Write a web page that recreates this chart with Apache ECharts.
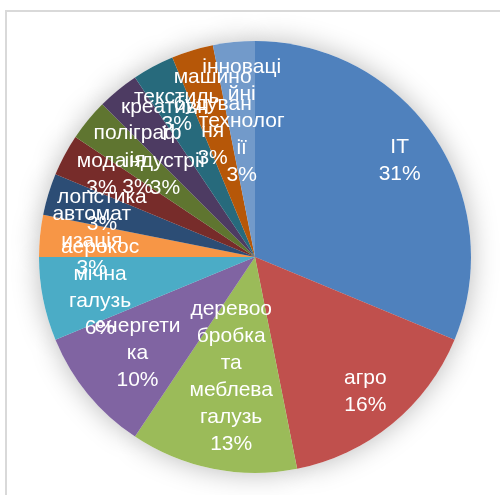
<!DOCTYPE html>
<html>
<head>
<meta charset="utf-8">
<script src="https://cdn.jsdelivr.net/npm/echarts@6/dist/echarts.min.js"></script>
<style>
  html, body { margin: 0; padding: 0; background: #fff; }
  .frame {
    position: absolute;
    left: 5px;
    top: 10px;
    width: 520px;
    height: 520px;
    border: 2px solid #d9d9d9;
  }
  #chart {
    position: absolute;
    left: 0;
    top: 0;
    width: 500px;
    height: 495px;
  }
</style>
</head>
<body>
<div class="frame"></div>
<div id="chart"></div>
<script>
// дані (кількість, відсотки рахує сама ECharts)
const categories = [
  'IT', 'агро', 'деревообробка та меблева галузь', 'енергетика',
  'аерокосмічна галузь', 'автоматизація', 'логістика', 'мода',
  'поліграфія', 'креативні індустрії', 'текстиль', 'машинобудування',
  'інноваційні технології'
];
const values = [10, 5, 4, 3, 2, 1, 1, 1, 1, 1, 1, 1, 1];
const colors = [
  '#4f81bd', '#c0504d', '#9bbb59', '#8064a2', '#4bacc6', '#f79646',
  '#2c4d75', '#772c2a', '#5f7530', '#4d3b62', '#276a7c', '#b65708',
  '#729aca'
];

const CENTER = [255, 257];
const RADIUS = 216;
const FONT_FAMILY = '"Liberation Sans", Arial, sans-serif';
const FONT_SIZE = 21;
const WRAP_WIDTH = 89.8;

// перенос як в Excel: по словах, довге слово ріжемо по літерах
const ctx = document.createElement('canvas').getContext('2d');
ctx.font = FONT_SIZE + 'px ' + FONT_FAMILY;
function wrapText(text, maxW) {
  const lines = [];
  let line = '';
  text.split(' ').forEach(word => {
    const cand = line ? line + ' ' + word : word;
    if (ctx.measureText(cand).width <= maxW) {
      line = cand;
      return;
    }
    if (line) {
      lines.push(line);
      line = '';
    }
    for (const ch of word) {
      if (line && ctx.measureText(line + ch).width > maxW) {
        lines.push(line);
        line = ch;
      } else {
        line += ch;
      }
    }
  });
  if (line) lines.push(line);
  return lines.join('\n');
}

const pieData = categories.map((name, i) => ({
  name: name,
  value: values[i],
  itemStyle: { color: colors[i] }
}));

const myChart = echarts.init(document.getElementById('chart'));

myChart.setOption({
  animation: false,
  series: [
    {
      // тінь під кругом
      type: 'pie',
      silent: true,
      center: CENTER,
      radius: RADIUS,
      startAngle: 90,
      label: { show: false },
      labelLine: { show: false },
      emphasis: { disabled: true },
      itemStyle: {
        color: '#ffffff',
        shadowBlur: 28,
        shadowColor: 'rgba(0, 0, 0, 0.28)'
      },
      data: values.map(v => ({ value: v })),
      z: 1
    },
    {
      type: 'pie',
      center: CENTER,
      radius: RADIUS,
      startAngle: 90,
      clockwise: true,
      percentPrecision: 0,
      z: 2,
      itemStyle: { borderWidth: 0 },
      label: {
        show: true,
        position: 'inside',
        color: '#ffffff',
        fontFamily: FONT_FAMILY,
        fontSize: FONT_SIZE,
        lineHeight: 27,
        align: 'center',
        formatter: p => wrapText(p.name, WRAP_WIDTH) + '\n' + p.percent + '%'
      },
      labelLine: { show: false },
      // ставимо підпис ближче до краю, але щоб не виліз за круг
      labelLayout: function (p) {
        const r0 = p.labelRect;
        const lx = r0.x + r0.width / 2;
        const ly = r0.y + r0.height / 2;
        const dx = lx - CENTER[0];
        const dy = ly - CENTER[1];
        const len = Math.sqrt(dx * dx + dy * dy) || 1;
        const ux = dx / len;
        const uy = dy / len;
        const hw = r0.width / 2;
        const hh = r0.height / 2;
        let r = 174;
        while (r > 0) {
          const fx = Math.abs(ux * r) + hw;
          const fy = Math.abs(uy * r) + hh;
          if (Math.sqrt(fx * fx + fy * fy) <= RADIUS - 4) break;
          r -= 2;
        }
        return { x: CENTER[0] + ux * r, y: CENTER[1] + uy * r };
      },
      data: pieData
    }
  ]
});
</script>
</body>
</html>
